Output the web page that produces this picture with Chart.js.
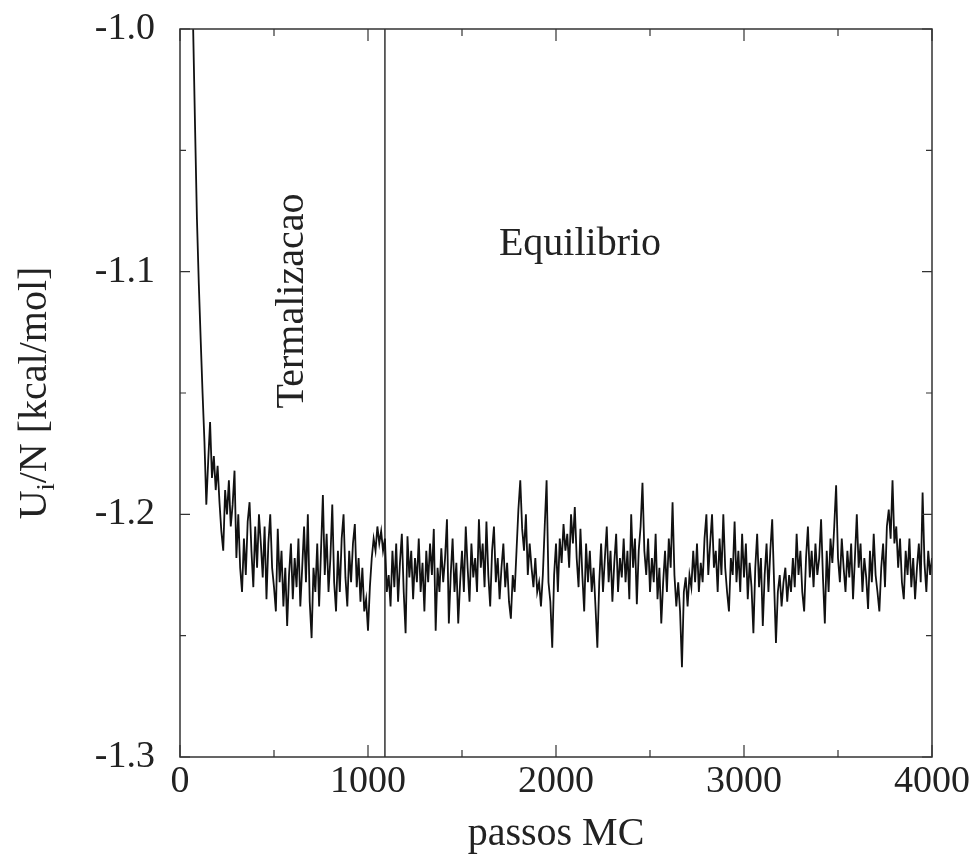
<!DOCTYPE html>
<html>
<head>
<meta charset="utf-8">
<script src="https://cdn.jsdelivr.net/npm/chart.js@4.4.1/dist/chart.umd.min.js"></script>
<style>
  html, body { margin: 0; padding: 0; background: #fff; }
</style>
</head>
<body>
<canvas id="energyChart" width="975" height="866"></canvas>
<script>
// MC steps of the first sample and spacing between samples
const firstStep = 70;
const stepSpacing = 10;

// U_i/N in kcal/mol, one row = 100 MC steps
const energy = [
  -1.000, -1.040, -1.078, -1.105, -1.128, -1.150, -1.170, -1.196, -1.178, -1.162,
  -1.185, -1.176, -1.190, -1.180, -1.195, -1.207, -1.215, -1.190, -1.200, -1.186,
  -1.205, -1.196, -1.182, -1.218, -1.200, -1.222, -1.232, -1.210, -1.225, -1.203,
  -1.195, -1.215, -1.230, -1.205, -1.222, -1.200, -1.212, -1.226, -1.205, -1.235,
  -1.212, -1.200, -1.222, -1.230, -1.240, -1.206, -1.228, -1.215, -1.238, -1.222,
  -1.246, -1.225, -1.212, -1.235, -1.218, -1.230, -1.210, -1.238, -1.222, -1.205,
  -1.228, -1.200, -1.236, -1.251, -1.222, -1.232, -1.212, -1.238, -1.215, -1.192,
  -1.225, -1.208, -1.232, -1.218, -1.196, -1.228, -1.240, -1.215, -1.232, -1.210,
  -1.200, -1.226, -1.238, -1.215, -1.228, -1.212, -1.204, -1.230, -1.218, -1.236,
  -1.222, -1.240, -1.235, -1.248, -1.230, -1.218, -1.210, -1.215, -1.205, -1.212,
  -1.207, -1.215, -1.210, -1.232, -1.225, -1.238, -1.215, -1.230, -1.212, -1.236,
  -1.220, -1.208, -1.232, -1.249, -1.209, -1.226, -1.215, -1.235, -1.218, -1.228,
  -1.210, -1.232, -1.220, -1.240, -1.215, -1.228, -1.212, -1.225, -1.206, -1.248,
  -1.222, -1.232, -1.214, -1.228, -1.218, -1.202, -1.245, -1.225, -1.210, -1.232,
  -1.220, -1.245, -1.228, -1.215, -1.232, -1.205, -1.222, -1.236, -1.212, -1.226,
  -1.218, -1.232, -1.202, -1.222, -1.212, -1.230, -1.203, -1.225, -1.238, -1.215,
  -1.205, -1.228, -1.218, -1.235, -1.222, -1.212, -1.230, -1.220, -1.236, -1.243,
  -1.225, -1.232, -1.215, -1.198, -1.186, -1.206, -1.215, -1.200, -1.225, -1.212,
  -1.222, -1.230, -1.218, -1.232, -1.228, -1.238, -1.225, -1.205, -1.186, -1.228,
  -1.236, -1.255, -1.225, -1.212, -1.232, -1.210, -1.220, -1.204, -1.215, -1.208,
  -1.222, -1.200, -1.212, -1.197, -1.218, -1.230, -1.206, -1.225, -1.240, -1.212,
  -1.228, -1.215, -1.232, -1.222, -1.238, -1.255, -1.228, -1.212, -1.232, -1.218,
  -1.205, -1.228, -1.215, -1.236, -1.220, -1.208, -1.232, -1.218, -1.226, -1.210,
  -1.228, -1.215, -1.235, -1.200, -1.222, -1.210, -1.237, -1.215, -1.205, -1.187,
  -1.215, -1.225, -1.210, -1.232, -1.218, -1.228, -1.208, -1.235, -1.222, -1.245,
  -1.228, -1.215, -1.232, -1.210, -1.222, -1.195, -1.225, -1.238, -1.228, -1.240,
  -1.263, -1.232, -1.226, -1.238, -1.225, -1.230, -1.215, -1.228, -1.212, -1.232,
  -1.220, -1.228, -1.210, -1.200, -1.225, -1.212, -1.200, -1.222, -1.215, -1.232,
  -1.210, -1.225, -1.200, -1.222, -1.232, -1.240, -1.218, -1.225, -1.203, -1.228,
  -1.215, -1.232, -1.208, -1.226, -1.212, -1.235, -1.220, -1.230, -1.249, -1.222,
  -1.208, -1.230, -1.218, -1.246, -1.225, -1.212, -1.232, -1.215, -1.202, -1.228,
  -1.253, -1.232, -1.225, -1.238, -1.228, -1.222, -1.236, -1.225, -1.232, -1.218,
  -1.230, -1.208, -1.225, -1.215, -1.232, -1.240, -1.218, -1.205, -1.226, -1.215,
  -1.230, -1.212, -1.225, -1.218, -1.202, -1.226, -1.245, -1.215, -1.232, -1.210,
  -1.220, -1.205, -1.188, -1.218, -1.228, -1.210, -1.222, -1.232, -1.215, -1.226,
  -1.212, -1.235, -1.218, -1.200, -1.222, -1.212, -1.232, -1.218, -1.226, -1.239,
  -1.215, -1.228, -1.208, -1.225, -1.232, -1.240, -1.222, -1.212, -1.230, -1.205,
  -1.198, -1.210, -1.186, -1.212, -1.205, -1.222, -1.210, -1.228, -1.235, -1.215,
  -1.225, -1.210, -1.230, -1.218, -1.235, -1.222, -1.212, -1.228, -1.191, -1.220,
  -1.232, -1.215, -1.225, -1.218
];

// boundary between thermalisation and equilibrium
const boundaryStep = 1090;

const xTickValues = [0, 1000, 2000, 3000, 4000];
const xMinorValues = [500, 1500, 2500, 3500];
const yTickValues = [-1.3, -1.2, -1.1, -1.0];
const yMinorValues = [-1.25, -1.15, -1.05];

const serif = "'Liberation Serif', 'Times New Roman', serif";
const ink = '#222';

const energyPoints = energy.map((u, i) => ({ x: firstStep + i * stepSpacing, y: u }));

// frame, inward ticks, titles and the two region labels
const figureDecor = {
  id: 'figureDecor',
  afterDraw(chart) {
    const ctx = chart.ctx;
    const a = chart.chartArea;
    const xs = chart.scales.x;
    const ys = chart.scales.y;
    ctx.save();
    ctx.strokeStyle = '#333';
    ctx.lineWidth = 1.5;
    ctx.strokeRect(a.left, a.top, a.right - a.left, a.bottom - a.top);

    ctx.lineWidth = 1.2;
    ctx.beginPath();
    const xTick = (v, len) => {
      const px = xs.getPixelForValue(v);
      ctx.moveTo(px, a.bottom); ctx.lineTo(px, a.bottom - len);
      ctx.moveTo(px, a.top); ctx.lineTo(px, a.top + len);
    };
    const yTick = (v, len) => {
      const py = ys.getPixelForValue(v);
      ctx.moveTo(a.left, py); ctx.lineTo(a.left + len, py);
      ctx.moveTo(a.right, py); ctx.lineTo(a.right - len, py);
    };
    xTickValues.forEach(v => xTick(v, 12));
    xMinorValues.forEach(v => xTick(v, 7));
    yTickValues.forEach(v => yTick(v, 10));
    yMinorValues.forEach(v => yTick(v, 6));
    ctx.stroke();

    ctx.fillStyle = ink;
    ctx.font = '40px ' + serif;
    ctx.textBaseline = 'alphabetic';

    // x title
    ctx.textAlign = 'center';
    ctx.fillText('passos MC', (a.left + a.right) / 2, 845);

    // region labels
    ctx.fillText('Equilibrio', 580, 255);
    ctx.save();
    ctx.translate(303, 301);
    ctx.rotate(-Math.PI / 2);
    ctx.fillText('Termalizacao', 0, 0);
    ctx.restore();

    // y title with subscript i
    ctx.save();
    ctx.translate(46, (a.top + a.bottom) / 2);
    ctx.rotate(-Math.PI / 2);
    const big = '40px ' + serif;
    const small = '26px ' + serif;
    ctx.font = big;
    const wU = ctx.measureText('U').width;
    const wRest = ctx.measureText('/N [kcal/mol]').width;
    ctx.font = small;
    const wI = ctx.measureText('i').width;
    let x0 = -(wU + wI + wRest) / 2;
    ctx.textAlign = 'left';
    ctx.font = big;
    ctx.fillText('U', x0, 0);
    ctx.font = small;
    ctx.fillText('i', x0 + wU, 8);
    ctx.font = big;
    ctx.fillText('/N [kcal/mol]', x0 + wU + wI, 0);
    ctx.restore();

    ctx.restore();
  }
};

new Chart(document.getElementById('energyChart').getContext('2d'), {
  type: 'line',
  data: {
    datasets: [
      {
        data: energyPoints,
        borderColor: '#111',
        borderWidth: 1.8,
        pointRadius: 0,
        tension: 0
      },
      {
        data: [{ x: boundaryStep, y: -1.0 }, { x: boundaryStep, y: -1.3 }],
        borderColor: '#333',
        borderWidth: 1.5,
        pointRadius: 0
      }
    ]
  },
  options: {
    responsive: false,
    animation: false,
    layout: { padding: { top: 29, right: 43, left: 0, bottom: 0 } },
    plugins: { legend: { display: false }, tooltip: { enabled: false } },
    scales: {
      x: {
        type: 'linear',
        min: 0,
        max: 4000,
        grid: { display: false, drawTicks: false },
        border: { display: false },
        afterBuildTicks: s => { s.ticks = xTickValues.map(v => ({ value: v })); },
        afterFit: s => { s.height = 109; s.paddingLeft = 0; s.paddingRight = 0; },
        ticks: {
          padding: 2,
          color: ink,
          font: { family: serif, size: 38 },
          maxRotation: 0,
          callback: v => String(v)
        }
      },
      y: {
        min: -1.3,
        max: -1.0,
        grid: { display: false, drawTicks: false },
        border: { display: false },
        afterBuildTicks: s => { s.ticks = yTickValues.map(v => ({ value: v })); },
        // keep the plot area pinned: drop the label overflow padding
        afterFit: s => { s.width = 180; s.paddingTop = 0; s.paddingBottom = 0; },
        ticks: {
          padding: 25,
          color: ink,
          font: { family: serif, size: 38 },
          callback: v => v.toFixed(1)
        }
      }
    }
  },
  plugins: [figureDecor]
});
</script>
</body>
</html>
